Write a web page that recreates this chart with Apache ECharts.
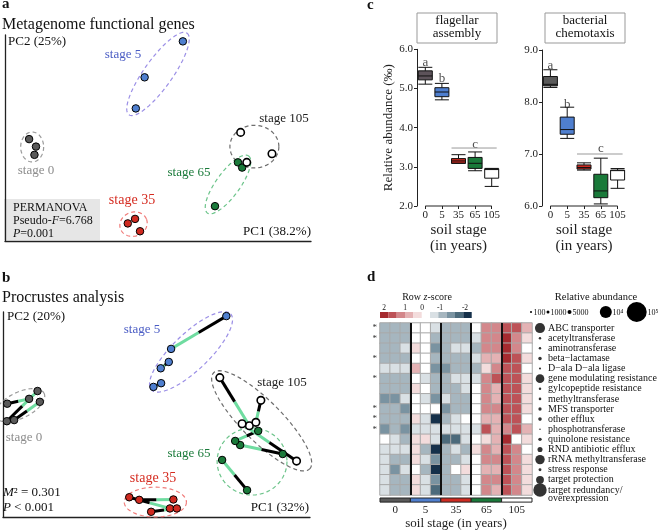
<!DOCTYPE html>
<html><head><meta charset="utf-8">
<script src="https://cdn.jsdelivr.net/npm/echarts@6/dist/echarts.min.js"></script>
<style>html,body{margin:0;padding:0;background:#fff}#c{width:660px;height:531px}</style>
</head><body><div id="c"></div>
<script>
// ===== DATA =====
const stageNames = ['0', '5', '35', '65', '105'];

// Panel a: PCoA scores (PC1, PC2) per stage
const pcoa0 = [[-0.237, 0.022], [-0.219, 0.002], [-0.223, -0.020]];
const pcoa5 = [[0.165, 0.283], [0.065, 0.187], [0.042, 0.104]];
const pcoa35 = [[0.040, -0.191], [0.021, -0.203], [0.053, -0.224]];
const pcoa65 = [[0.309, -0.040], [0.320, -0.054], [0.249, -0.157]];
const pcoa105 = [[0.316, 0.040], [0.398, -0.017], [0.332, -0.040]];
// confidence ellipses: [cx, cy, axis1x, axis1y, axis2x, axis2y]
const ellipsesA = [
  [-0.229, 0.001, 0.030, 0, 0, -0.040],
  [0.100, 0.196, 0.076, 0.109, 0.030, -0.022],
  [0.036, -0.205, 0.034, 0.013, 0.011, -0.030],
  [0.283, -0.099, 0.054, 0.076, 0.025, -0.019],
  [0.352, 0.002, 0.064, 0, 0, 0.057]
];

// Panel b: Procrustes, configuration A (black end) and B (green end)
const procA0 = [[-0.289, 0.054], [-0.271, 0.010], [-0.290, 0.007]];
const procB0 = [[-0.232, 0.067], [-0.204, 0.059], [-0.210, 0.088]];
const procA5 = [[0.282, 0.289], [0.132, 0.166], [0.112, 0.109]];
const procB5 = [[0.138, 0.201], [0.111, 0.149], [0.092, 0.099]];
const procA35 = [[0.055, -0.204], [0.029, -0.197], [0.086, -0.236]];
const procB35 = [[0.144, -0.203], [0.135, -0.227], [0.153, -0.227]];
const procA65 = [[0.429, -0.081], [0.365, -0.019], [0.336, -0.178]];
const procB65 = [[0.318, -0.057], [0.305, -0.046], [0.271, -0.097]];
const procA105 = [[0.265, 0.124], [0.372, 0.063], [0.465, -0.100]];
const procB105 = [[0.342, -0.005], [0.359, 0.004], [0.323, 0.000]];
const ellipsesB = [
  [-0.256, 0.050, 0.063, 0.032, 0.015, -0.031],
  [0.190, 0.193, 0.103, 0.102, 0.033, -0.035],
  [0.097, -0.210, 0.081, 0, 0, -0.040],
  [0.349, -0.101, 0.091, 0, 0, -0.090],
  [0.374, 0.008, 0.125, -0.129, 0.037, 0.038]
];

// Panel c: boxplots [min, Q1, median, Q3, max]
const flagellar = [
  [5.11, 5.22, 5.32, 5.45, 5.54],
  [4.71, 4.79, 4.91, 5.02, 5.13],
  [3.09, 3.09, 3.15, 3.21, 3.31],
  [2.90, 2.96, 3.09, 3.24, 3.38],
  [2.50, 2.71, 2.93, 2.95, 2.96]
];
const chemotaxis = [
  [8.28, 8.31, 8.34, 8.49, 8.62],
  [7.30, 7.38, 7.47, 7.71, 7.90],
  [6.69, 6.71, 6.74, 6.79, 6.83],
  [6.04, 6.16, 6.29, 6.61, 6.92],
  [6.34, 6.50, 6.68, 6.69, 6.72]
];
const flagellarLetters = [['a', 0, 5.65], ['b', 1, 5.24], ['c', 3, 3.58]];
const chemotaxisLetters = [['a', 0, 8.71], ['b', 1, 7.96], ['c', 3, 7.10]];
const flagellarCLine = 3.48;
const chemotaxisCLine = 7.0;

// Panel d: heatmap row z-scores (17 genes x 15 samples)
const geneNames = ['ABC transporter', 'acetyltransferase', 'aminotransferase', 'beta\u2212lactamase',
  'D\u2212ala D\u2212ala ligase', 'gene modulating resistance', 'gylcopeptide resistance', 'methyltransferase',
  'MFS transporter', 'other efflux', 'phosphotransferase', 'quinolone resistance', 'RND antibiotic efflux',
  'rRNA methyltransferase', 'stress response', 'target protection', 'target redundancy/\noverexpression'];
const starred = [1, 1, 0, 1, 0, 1, 0, 0, 1, 1, 1, 0, 0, 0, 0, 0, 0];
const zScores = [
  [-0.8, -0.8, -0.8, 0, 0, -0.4, -0.8, -0.8, -0.8, 0, 1.2, 1.2, 1.6, 1.6, 0.8],
  [-0.8, -0.8, -0.8, 0, 0, -0.8, -0.8, -0.8, -0.8, -0.4, 1.2, 1.2, 2.0, 1.2, 0.4],
  [-0.8, -0.8, -0.4, 0.4, 0, -1.2, -0.8, -0.4, -0.4, -0.8, 1.2, 1.2, 2.0, 1.2, 0],
  [-0.8, -0.8, -0.8, 0, 0, -0.8, -0.8, -0.8, -0.8, -0.4, 0.8, 0.8, 2.0, 1.6, 0.4],
  [-0.4, -0.4, -0.4, 0.8, 0, -1.2, -1.2, -0.8, -0.8, -0.8, 0.4, 1.2, 1.6, 1.6, 0],
  [-0.8, -0.8, -0.8, 0, -0.4, -0.8, -0.8, -0.4, -0.4, -0.4, 1.2, 1.6, 1.6, 1.6, 0.4],
  [-0.8, -0.8, -0.8, 0.4, 0, -0.8, -0.8, -0.8, -0.4, 0, 1.2, 0.8, 1.6, 1.6, 0.4],
  [-1.2, -1.2, -0.4, 0, -0.4, -1.2, -0.4, -0.8, -0.8, 0, 1.2, 0.8, 1.6, 1.6, 0.4],
  [-0.8, -0.8, -1.2, 0, 0, 0, -1.2, -0.8, -0.8, 0, 1.2, 1.2, 1.6, 1.6, 0.4],
  [-0.8, -0.8, -0.8, 0.4, -0.4, -2.2, -0.8, -0.4, 0, 0, 0.8, 0.8, 1.6, 1.6, 0],
  [-1.2, -0.8, -1.2, -0.4, -0.4, -0.4, -0.4, -0.4, -0.4, -0.4, 1.6, 0.8, 1.2, 1.6, 0.8],
  [0, -0.4, -0.8, 0.4, 0.4, -0.4, -1.6, -1.6, -0.4, 0, 0.4, 0.8, 2.0, 0, 0.4],
  [-0.4, -0.4, -0.4, 0.4, -0.8, -2.2, -0.8, -0.4, -0.8, 0.4, 1.2, 0.8, 1.6, 1.2, 0],
  [-0.4, -0.8, -0.8, 0.4, -0.4, -1.2, -0.8, -0.8, -0.4, 0, 1.2, 1.2, 1.6, 1.2, 0.4],
  [-0.4, -1.2, -0.4, 0, -0.8, -2.2, -0.8, 0, 0.4, 0, 0.8, 0.8, 1.6, 1.2, 0.4],
  [-0.4, -0.8, -0.8, 0.4, -0.4, -1.2, -0.8, -0.8, -0.4, 0, 1.2, 1.2, 1.6, 1.2, 0.4],
  [-0.4, -0.8, -0.8, 0.4, -0.4, -1.6, -0.8, -0.8, -0.4, 0, 1.2, 0.8, 1.6, 1.2, 0.4]
];
const abundance = [8500, 300, 300, 2000, 150, 7500, 300, 400, 1500, 2500, 60, 2000, 5500, 8000, 800, 7000, 15000];
const bubbleLegendValues = [100, 1000, 5000, 10000, 100000];
const zLegendTicks = ['2', '1', '0', '-1', '-2'];

// ===== STYLE =====
const SERIF = "'Liberation Serif','Times New Roman',Times,serif";
const pointColors = ['#5a5a5a', '#4f7fcf', '#cf2a20', '#1a7a3a', '#ffffff'];
const labelColors = ['#8c8c8c', '#4a5cc4', '#d52b20', '#1a7a3a', '#222222'];
const ellColors = ['#9a9a9a', '#9b8fe6', '#f07a78', '#6cc48a', '#6e6e6e'];
const boxColorsL = ['#5d535a', '#4f7fcf', '#c9271e', '#1a7a3a', '#ffffff'];
const boxColorsR = ['#5a5a5a', '#4f7fcf', '#c9271e', '#1a7a3a', '#ffffff'];
const zPieces = [
  { min: 1.8, color: '#a52a2f' }, { min: 1.4, max: 1.8, color: '#bd5257' },
  { min: 1.0, max: 1.4, color: '#d3878b' }, { min: 0.6, max: 1.0, color: '#e4b2b4' },
  { min: 0.2, max: 0.6, color: '#f3dcdc' }, { min: -0.2, max: 0.2, color: '#ffffff' },
  { min: -0.6, max: -0.2, color: '#d9e0e4' }, { min: -1.0, max: -0.6, color: '#a6b6bf' },
  { min: -1.4, max: -1.0, color: '#7a93a1' }, { min: -1.8, max: -1.4, color: '#4c6a7b' },
  { max: -1.8, color: '#15304a' }
];
function bubbleSize(v) {
  const lx = [2, 3, 3.7, 4, 5], ly = [2, 3, 4, 12, 20];
  const l = Math.log10(v);
  if (l <= lx[0]) return ly[0] * Math.pow(10, (l - 2) / 2);
  for (let i = 1; i < lx.length; i++) if (l <= lx[i]) return ly[i - 1] + (l - lx[i - 1]) / (lx[i] - lx[i - 1]) * (ly[i] - ly[i - 1]);
  return ly[ly.length - 1];
}

const chart = echarts.init(document.getElementById('c'), null, { renderer: 'canvas' });

const hiddenVal = (gi, min, max) => ({ type: 'value', gridIndex: gi, min, max, show: false });
const pcAxis = (gi, min, max) => ({
  type: 'value', gridIndex: gi, min, max,
  axisLine: { show: true, onZero: false, lineStyle: { color: '#222', width: 1.3 } },
  axisTick: { show: false }, axisLabel: { show: false }, splitLine: { show: false }
});

const grids = [
  { left: 5, top: 35, width: 306, height: 206 },
  { left: 3, top: 312, width: 307, height: 205 },
  { left: 417, top: 49.3, width: 83, height: 156.7 },
  { left: 542, top: 50, width: 84, height: 156 },
  { left: 380, top: 323, width: 152, height: 172 },
  { left: 535, top: 323, width: 10, height: 172 },
  { left: 380, top: 498, width: 152, height: 8 }
];

const boxX = gi => ({
  type: 'category', gridIndex: gi, data: stageNames,
  axisLine: { show: false }, axisTick: { show: true, alignWithLabel: true, interval: 0, length: 3, lineStyle: { color: '#222' } },
  axisLabel: { fontSize: 11, color: '#222', margin: 4, fontFamily: SERIF, interval: 0 },
  name: 'soil stage\n(in years)', nameLocation: 'middle', nameGap: 16,
  nameTextStyle: { fontSize: 15, color: '#222', lineHeight: 16, fontFamily: SERIF }
});
const boxY = (gi, min, max, name) => ({
  type: 'value', gridIndex: gi, min, max, interval: 1,
  axisLine: { show: true, lineStyle: { color: '#222', width: 1 } },
  axisTick: { show: true, length: 3, lineStyle: { color: '#222' } },
  axisLabel: { fontSize: 11, color: '#222', margin: 4, fontFamily: SERIF, formatter: v => v.toFixed(1) },
  splitLine: { show: false },
  name, nameLocation: 'middle', nameGap: 20, nameRotate: 90,
  nameTextStyle: { fontSize: 13, color: '#222', fontFamily: SERIF }
});

const xAxes = [
  pcAxis(0, -0.3, 0.5),
  pcAxis(1, -0.3, 0.5),
  boxX(2),
  boxX(3),
  { type: 'category', gridIndex: 4, data: stageNames.flatMap(s => [s + 'a', s + 'b', s + 'c']), show: false },
  hiddenVal(4, 0, 15),
  hiddenVal(5, -1, 1),
  { type: 'category', gridIndex: 6, data: stageNames, axisLine: { show: false }, axisTick: { show: false },
    axisLabel: { fontSize: 11, color: '#222', margin: 3, fontFamily: SERIF, interval: 0 },
    name: 'soil stage (in years)', nameLocation: 'middle', nameGap: 12,
    nameTextStyle: { fontSize: 13, color: '#222', fontFamily: SERIF } }
];
const yAxes = [
  pcAxis(0, -0.25, 0.3),
  pcAxis(1, -0.25, 0.3),
  boxY(2, 2, 6, 'Relative abundance (\u2030)'),
  boxY(3, 6, 9, ''),
  { type: 'category', gridIndex: 4, data: geneNames, inverse: true, axisLine: { show: false }, axisTick: { show: false },
    axisLabel: { fontSize: 9, color: '#333', margin: 3, interval: 0, formatter: (v, i) => starred[i] ? '*' : '' } },
  hiddenVal(4, 0, 1),
  { type: 'category', gridIndex: 5, data: geneNames, inverse: true, position: 'right',
    axisLine: { show: false }, axisTick: { show: false },
    axisLabel: { fontSize: 10, color: '#111', margin: 3, interval: 0, lineHeight: 8, fontFamily: SERIF,
      formatter: v => v.indexOf('\n') >= 0 ? '\n' + v : v } },
  hiddenVal(6, 0, 1)
];

const series = [];
function ellipseSeries(axisIdx, list) {
  series.push({
    type: 'custom', xAxisIndex: axisIdx, yAxisIndex: axisIdx, silent: true, z: 1, clip: false,
    data: list.map((e, i) => ({ value: e, itemStyle: { color: ellColors[i] } })),
    encode: { x: 0, y: 1 },
    renderItem: (p, api) => {
      const v = [0, 1, 2, 3, 4, 5].map(k => api.value(k));
      const pts = [];
      for (let k = 0; k <= 90; k++) {
        const t = k / 90 * 2 * Math.PI;
        pts.push(api.coord([v[0] + Math.cos(t) * v[2] + Math.sin(t) * v[4], v[1] + Math.cos(t) * v[3] + Math.sin(t) * v[5]]));
      }
      return { type: 'polyline', shape: { points: pts }, style: { stroke: api.visual('color'), fill: 'none', lineWidth: 1.2, lineDash: [4, 3] } };
    }
  });
}
function pointSeries(axisIdx, stageIdx, pts) {
  series.push({
    type: 'scatter', xAxisIndex: axisIdx, yAxisIndex: axisIdx, data: pts, symbolSize: 7.5, z: 5,
    itemStyle: { color: pointColors[stageIdx], borderColor: '#000', borderWidth: stageIdx === 4 ? 1.6 : 1, opacity: 1 }
  });
}

// Panel a
ellipseSeries(0, ellipsesA);
[pcoa0, pcoa5, pcoa35, pcoa65, pcoa105].forEach((p, i) => pointSeries(0, i, p));

// Panel b
ellipseSeries(1, ellipsesB);
const procAs = [procA0, procA5, procA35, procA65, procA105];
const procBs = [procB0, procB5, procB35, procB65, procB105];
const pairs = [];
procAs.forEach((A, s) => A.forEach((a, k) => pairs.push([a[0], a[1], procBs[s][k][0], procBs[s][k][1]])));
series.push({
  type: 'custom', xAxisIndex: 1, yAxisIndex: 1, silent: true, z: 3, clip: false, data: pairs, encode: { x: 0, y: 1 },
  renderItem: (p, api) => {
    const a = [api.value(0), api.value(1)], b = [api.value(2), api.value(3)];
    const m = [(a[0] + b[0]) / 2, (a[1] + b[1]) / 2];
    const pa = api.coord(a), pm = api.coord(m), pb = api.coord(b);
    return { type: 'group', children: [
      { type: 'line', shape: { x1: pm[0], y1: pm[1], x2: pb[0], y2: pb[1] }, style: { stroke: '#6fdca0', lineWidth: 3 } },
      { type: 'line', shape: { x1: pa[0], y1: pa[1], x2: pm[0], y2: pm[1] }, style: { stroke: '#000', lineWidth: 3 } }
    ] };
  }
});
procAs.forEach((A, s) => pointSeries(1, s, A.concat(procBs[s])));

// Panel c
function boxSeries(axisIdx, data, colors, letters) {
  series.push({
    type: 'boxplot', xAxisIndex: axisIdx, yAxisIndex: axisIdx, boxWidth: [14, 14],
    itemStyle: { borderColor: '#111', borderWidth: 1 },
    data: data.map((d, i) => ({ value: d, itemStyle: { color: colors[i], borderColor: '#111' } }))
  });
  series.push({
    type: 'scatter', xAxisIndex: axisIdx, yAxisIndex: axisIdx, symbolSize: 0, silent: true,
    data: letters.map(l => ({ name: l[0], value: [l[1], l[2]] })),
    label: { show: true, position: 'inside', formatter: '{b}', fontSize: 13, color: '#222', fontFamily: SERIF }
  });
}
boxSeries(2, flagellar, boxColorsL, flagellarLetters);
boxSeries(3, chemotaxis, boxColorsR, chemotaxisLetters);

// Panel d heatmap
const hmData = [];
zScores.forEach((row, r) => row.forEach((v, c) => hmData.push([c, r, v])));
const hmIndex = series.length;
series.push({
  type: 'heatmap', xAxisIndex: 4, yAxisIndex: 4, data: hmData,
  itemStyle: { borderColor: '#a9a9a9', borderWidth: 1 }, emphasis: { disabled: true }
});
series.push({
  type: 'line', xAxisIndex: 5, yAxisIndex: 5, data: [[0, 0]], symbol: 'none', lineStyle: { opacity: 0 }, silent: true,
  markLine: { silent: true, symbol: 'none', label: { show: false },
    lineStyle: { color: '#111', width: 2, type: 'solid' },
    data: [{ xAxis: 3 }, { xAxis: 6 }, { xAxis: 9 }, { xAxis: 12 }] }
});
series.push({
  type: 'scatter', xAxisIndex: 6, yAxisIndex: 6, silent: true,
  data: abundance.map((v, i) => [0, i, v]),
  symbolSize: v => bubbleSize(v[2]),
  itemStyle: { color: '#000' }
});
series.push({
  type: 'custom', xAxisIndex: 7, yAxisIndex: 7, silent: true, encode: { x: 0, y: 1 },
  data: stageNames.map((s, i) => ({ value: [i, 1], itemStyle: { color: pointColors[i] } })),
  renderItem: (p, api) => {
    const top = api.coord([api.value(0), 1]), bot = api.coord([api.value(0), 0]);
    const w = api.size([1, 1])[0];
    return { type: 'rect', shape: { x: top[0] - w / 2, y: top[1], width: w, height: bot[1] - top[1] },
      style: { fill: api.visual('color'), stroke: '#222', lineWidth: 1 } };
  }
});

chart.setOption({
  animation: false,
  backgroundColor: '#fff',
  textStyle: { fontFamily: SERIF },
  grid: grids,
  xAxis: xAxes,
  yAxis: yAxes,
  visualMap: [{ type: 'piecewise', show: false, seriesIndex: hmIndex, dimension: 2, pieces: zPieces }],
  series
});

// ===== Annotations =====
function T(x, y, text, o) {
  return { type: 'text', x, y, z: 20, silent: true,
    style: Object.assign({ text, fontFamily: SERIF, fontSize: 13, fill: '#111', align: 'left', verticalAlign: 'middle' }, o || {}) };
}
const it = fs => ({ i: { fontStyle: 'italic', fontFamily: SERIF, fontSize: fs, fill: '#111' }, n: { fontFamily: SERIF, fontSize: fs, fill: '#111' } });
const g = [];
// panel a
g.push(T(2, 4, 'a', { fontWeight: 'bold', fontSize: 15 }));
g.push(T(2, 25, 'Metagenome functional genes', { fontSize: 16 }));
g.push(T(8, 42, 'PC2 (25%)'));
g.push(T(311, 232, 'PC1 (38.2%)', { align: 'right' }));
g.push({ type: 'rect', x: 4, y: 199, z: 0, silent: true, shape: { width: 96, height: 41 }, style: { fill: '#e6e6e6' } });
g.push(T(13, 208, 'PERMANOVA', { fontSize: 12 }));
g.push(T(13, 221, '{n|Pseudo-}{i|F}{n|=6.768}', { fontSize: 12, rich: it(12) }));
g.push(T(13, 234, '{i|P}{n|=0.001}', { fontSize: 12, rich: it(12) }));
const stA = [[36, 171], [123, 55], [132, 200], [189, 173], [284, 119]];
stA.forEach((p, i) => g.push(T(p[0], p[1], 'stage ' + stageNames[i], { align: 'center', fill: labelColors[i], fontSize: i === 2 ? 14 : 13 })));
// panel b
g.push(T(2, 278, 'b', { fontWeight: 'bold', fontSize: 15 }));
g.push(T(2, 298, 'Procrustes analysis', { fontSize: 16 }));
g.push(T(7, 317, 'PC2 (20%)'));
g.push(T(309, 508, 'PC1 (32%)', { align: 'right' }));
g.push(T(3, 493, '{i|M}{n|\u00b2 = 0.301}', { rich: it(13) }));
g.push(T(3, 508, '{i|P}{n| < 0.001}', { rich: it(13) }));
const stB = [[24, 438], [142, 330], [153, 478], [189, 454], [282, 383]];
stB.forEach((p, i) => g.push(T(p[0], p[1], 'stage ' + stageNames[i], { align: 'center', fill: labelColors[i], fontSize: i === 2 ? 14 : 13 })));
// panel c
g.push(T(367, 5, 'c', { fontWeight: 'bold', fontSize: 15 }));
g.push({ type: 'rect', x: 417, y: 13, z: 5, silent: true, shape: { width: 80, height: 30 }, style: { fill: '#fff', stroke: '#999', lineWidth: 1 } });
g.push({ type: 'rect', x: 545, y: 13, z: 5, silent: true, shape: { width: 80, height: 30 }, style: { fill: '#fff', stroke: '#999', lineWidth: 1 } });
g.push(T(457, 21, 'flagellar', { align: 'center' }));
g.push(T(457, 34, 'assembly', { align: 'center' }));
g.push(T(585, 21, 'bacterial', { align: 'center' }));
g.push(T(585, 34, 'chemotaxis', { align: 'center' }));
[[2, 2, flagellarCLine], [3, 6, chemotaxisCLine]].forEach(([gi, ymin, cl]) => {
  const p0 = chart.convertToPixel({ gridIndex: gi }, [0, ymin]);
  const p4 = chart.convertToPixel({ gridIndex: gi }, [4, ymin]);
  g.push({ type: 'line', z: 20, silent: true, shape: { x1: p0[0], y1: p0[1], x2: p4[0], y2: p4[1] }, style: { stroke: '#222', lineWidth: 1 } });
  const c2 = chart.convertToPixel({ gridIndex: gi }, [2, cl]);
  const c4 = chart.convertToPixel({ gridIndex: gi }, [4, cl]);
  g.push({ type: 'line', z: 20, silent: true, shape: { x1: c2[0] - 7, y1: c2[1], x2: c4[0] + 5, y2: c4[1] }, style: { stroke: '#999', lineWidth: 1 } });
});
// panel d
g.push(T(367, 277, 'd', { fontWeight: 'bold', fontSize: 15 }));
g.push(T(427, 297, '{n|Row }{i|z}{n|-score}', { align: 'center', fontSize: 10, rich: it(10) }));
const zx = [384, 405, 422, 440, 465];
zLegendTicks.forEach((t, i) => g.push(T(zx[i], 308.5, t, { align: 'center', fontSize: 7.5 })));
const legendColors = zPieces.map(p => p.color);
for (let i = 0; i < 5; i++) g.push({ type: 'rect', x: 380 + i * 8.33, y: 312, silent: true, shape: { width: 8.4, height: 6 }, style: { fill: legendColors[i] } });
for (let i = 0; i < 5; i++) g.push({ type: 'rect', x: 430 + i * 8.33, y: 312, silent: true, shape: { width: 8.4, height: 6 }, style: { fill: legendColors[6 + i] } });
g.push(T(596, 297, 'Relative abundance', { align: 'center', fontSize: 10.5 }));
const bx = [531, 548, 569.5, 605.8, 636.7];
const bt = [[533.5, '100'], [550.5, '1000'], [572.5, '5000'], [612.5, '10\u2074'], [647.5, '10\u2075']];
bubbleLegendValues.forEach((v, i) => {
  g.push({ type: 'circle', silent: true, z: 20, shape: { cx: bx[i], cy: 312, r: bubbleSize(v) / 2 }, style: { fill: '#000' } });
  g.push(T(bt[i][0], 312.5, bt[i][1], { fontSize: 8 }));
});

chart.setOption({ graphic: g });
</script></body></html>
